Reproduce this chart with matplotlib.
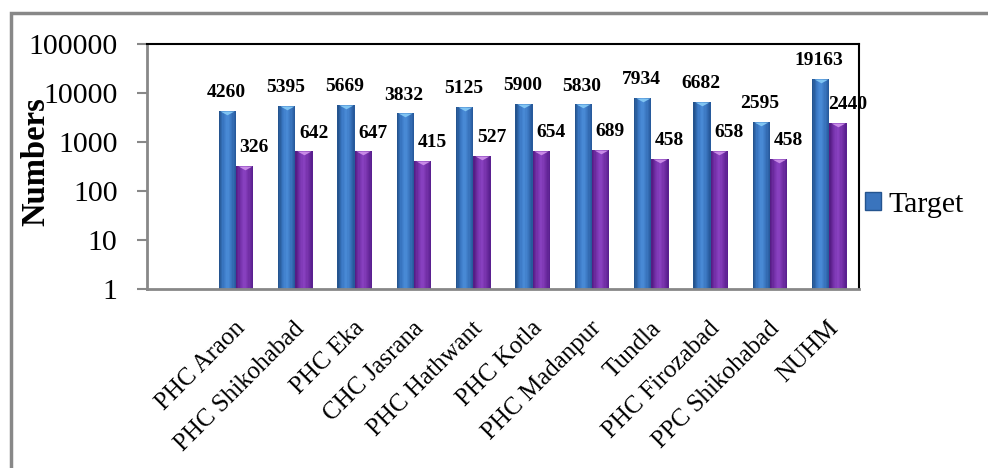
import numpy as np
import matplotlib.pyplot as plt
from matplotlib.colors import LinearSegmentedColormap
from matplotlib.path import Path
from matplotlib.patches import Patch, Rectangle
from matplotlib.transforms import ScaledTranslation

centres = ['PHC Araon', 'PHC Shikohabad', 'PHC Eka', 'CHC Jasrana', 'PHC Hathwant',
           'PHC Kotla', 'PHC Madanpur', 'Tundla', 'PHC Firozabad', 'PPC Shikohabad', 'NUHM']
target = [4260, 5395, 5669, 3832, 5125, 5900, 5830, 7934, 6682, 2595, 19163]
achieved = [326, 642, 647, 415, 527, 654, 689, 458, 658, 458, 2440]
yticks = [1, 10, 100, 1000, 10000, 100000]

plt.rcParams['font.family'] = ['Liberation Serif', 'DejaVu Serif']

BAR_W = 0.29
blue_cols = ['#24548f', '#3a78c4', '#4b8cd8', '#3a76c0', '#275a9c']
purple_cols = ['#561d86', '#7632ac', '#8a42c2', '#7430a8', '#5a2090']

# down-pointing wedge drawn just under the top of each bar
cap = Path([(-1, 0), (1, 0), (0, -0.55), (-1, 0)],
           [Path.MOVETO, Path.LINETO, Path.LINETO, Path.CLOSEPOLY])


def cylinder_bars(ax, left, values, cols, cap_col, n=14):
    # shade each bar with thin vertical strips so it looks rounded
    cmap = LinearSegmentedColormap.from_list('shade', cols)
    w = BAR_W / n
    for k in range(n):
        ax.bar(left + k * w, values, width=w * 1.02, align='edge',
               color=cmap(k / (n - 1)), linewidth=0, zorder=2)
    ax.plot(left + BAR_W / 2, values, ls='none', marker=cap, ms=10,
            color=cap_col, mec='none', zorder=3)


fig = plt.figure(figsize=(9.88, 4.68), dpi=100)
ax = fig.add_axes([0.1488, 0.3825, 0.7206, 0.5235])
ax.set_yscale('log')

x = np.arange(len(centres))
cylinder_bars(ax, x - BAR_W, np.array(target), blue_cols, '#80c4f2')
cylinder_bars(ax, x, np.array(achieved), purple_cols, '#c88ae6')

for xi, t, a in zip(x, target, achieved):
    ax.annotate(str(t), (xi - BAR_W / 2, t), xytext=(-1, 7), textcoords='offset points',
                ha='center', va='bottom', fontsize=14, fontweight='bold')
    ax.annotate(str(a), (xi + BAR_W / 2, a), xytext=(7, 7), textcoords='offset points',
                ha='center', va='bottom', fontsize=14, fontweight='bold')

ax.set_xlim(-1.5, 10.5)
ax.set_ylim(1, 100000)
ax.set_yticks(yticks)
ax.set_yticklabels([str(v) for v in yticks])
ax.yaxis.set_minor_locator(plt.NullLocator())
ax.tick_params(axis='y', length=7.2, width=1.5, color='#888888', pad=14, labelsize=21.5)

ax.set_xticks(x)
ax.set_xticklabels(centres, rotation=45, ha='right', va='center', rotation_mode='anchor')
ax.tick_params(axis='x', length=0, pad=26, labelsize=18)
shift = ScaledTranslation(6 / 100, 0, fig.dpi_scale_trans)
for lab in ax.get_xticklabels():
    lab.set_transform(lab.get_transform() + shift)

ax.set_ylabel('Numbers', fontsize=23.5, fontweight='bold')
ax.yaxis.set_label_coords(-0.135, 0.52)

for side in ['left', 'bottom']:
    ax.spines[side].set_color('#888888')
    ax.spines[side].set_linewidth(2)
for side in ['top', 'right']:
    ax.spines[side].set_color('black')
    ax.spines[side].set_linewidth(1.5)

ax.legend(handles=[Patch(facecolor='#3a74bd', edgecolor='#24548f')], labels=['Target'],
          loc='center left', bbox_to_anchor=(0.8755, 0.562), bbox_transform=fig.transFigure,
          frameon=False, fontsize=21.5, handlelength=0.55, handleheight=0.55,
          handletextpad=0.25, borderpad=0, borderaxespad=0)

# outer frame, open towards the right and bottom
fig.add_artist(Rectangle((11 / 988, -0.2), 1.5, 0.2 + 1 - 13 / 468, transform=fig.transFigure,
                         fill=False, edgecolor='#888888', linewidth=2.5))

fig.savefig('out.png', dpi=100)
